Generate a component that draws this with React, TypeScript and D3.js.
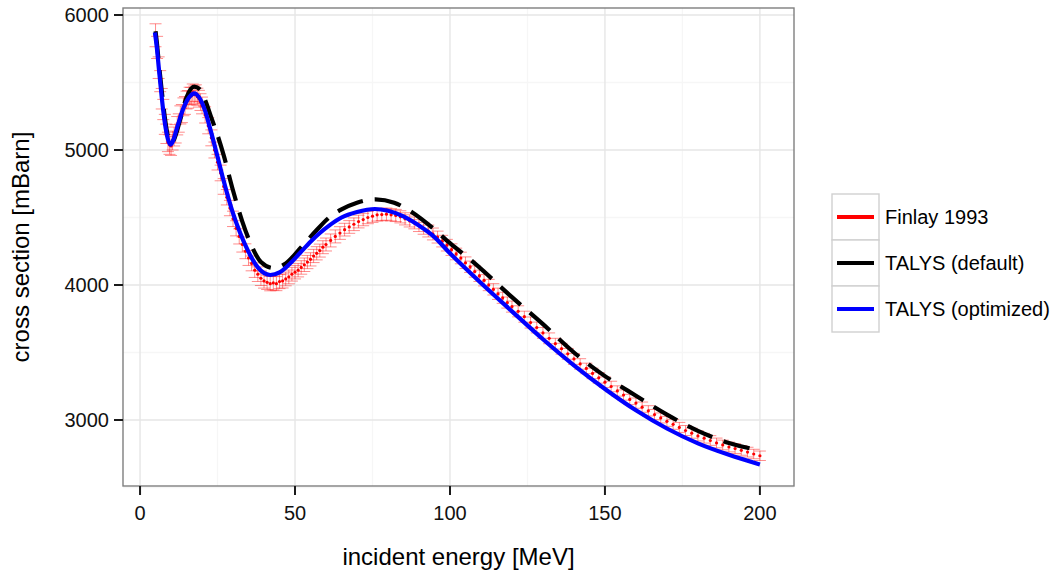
import React from "react";
import * as d3 from "d3";

// ---- Data ----
const legendLabels = ["Finlay 1993", "TALYS (default)", "TALYS (optimized)"];
const xTicks = [0, 50, 100, 150, 200];
const yTicks = [3000, 4000, 5000, 6000];
const xMinor = [25, 75, 125, 175];
const yMinor = [2500, 3500, 4500, 5500];

// Finlay 1993 experimental points
const redEnergy = [
  5.0, 5.5, 6.0, 6.5, 7.0, 7.5, 8.0, 8.5, 9.0, 9.5, 10.0, 10.5, 11.0, 11.5, 12.0, 12.5, 13.0, 13.5, 14.0, 14.5,
  15.0, 15.5, 16.0, 16.5, 17.0, 17.5, 18.0, 18.5, 19.0, 19.5, 20.0,
  21, 22, 23, 24, 25, 26, 27, 28, 29, 30, 31, 32, 33, 34, 35, 36, 37, 38, 39, 40,
  41, 42, 43, 44, 45, 46, 47, 48, 49, 50, 51, 52, 53, 54, 55, 56, 57, 58, 59, 60,
  61.5, 63, 64.5, 66, 67.5, 69, 70.5, 72, 73.5, 75, 76.5, 78, 79.5, 81, 82.5, 84, 85.5, 87, 88.5, 90,
  91.5, 93, 94.5, 96, 97.5, 99, 100.5, 102, 103.5, 105, 106.5, 108, 109.5, 111, 112.5, 114, 115.5, 117, 118.5, 120,
  122, 124, 126, 128, 130, 132, 134, 136, 138, 140, 142, 144, 146, 148, 150, 152, 154, 156, 158, 160,
  162, 164, 166, 168, 170, 172, 174, 176, 178, 180, 182, 184, 186, 188, 190, 192, 194, 196, 198, 200,
];
const redSigma = [
  5850, 5760, 5610, 5510, 5380, 5300, 5190, 5120, 5060, 5040, 5030, 5070, 5100, 5120, 5180, 5200, 5260, 5270, 5320, 5330,
  5370, 5375, 5400, 5400, 5425, 5410, 5420, 5395, 5380, 5355, 5330,
  5260, 5180, 5090, 5000, 4910, 4830, 4730, 4650, 4570, 4490, 4420, 4360, 4300, 4250, 4200, 4160, 4110, 4080, 4050, 4030,
  4020, 4010, 4015, 4010, 4025, 4030, 4045, 4060, 4080, 4095, 4110, 4130, 4150, 4170, 4190, 4215, 4235, 4255, 4280, 4300,
  4330, 4360, 4385, 4410, 4430, 4450, 4470, 4485, 4500, 4510, 4520, 4522, 4525, 4520, 4515, 4505, 4490, 4475, 4460, 4440,
  4420, 4400, 4378, 4355, 4325, 4295, 4262, 4230, 4200, 4165, 4135, 4100, 4068, 4035, 4000, 3968, 3935, 3905, 3870, 3840,
  3805, 3765, 3722, 3685, 3645, 3605, 3565, 3528, 3490, 3452, 3415, 3382, 3345, 3312, 3280, 3248, 3215, 3185, 3152, 3125,
  3095, 3068, 3040, 3015, 2990, 2968, 2945, 2922, 2902, 2882, 2865, 2848, 2830, 2815, 2800, 2788, 2775, 2762, 2748, 2735,
];
const redError = [
  85, 82, 80, 78, 76, 75, 74, 72, 72, 72, 70, 70, 70, 68, 68, 68, 67, 67, 66, 66,
  66, 65, 65, 64, 64, 64, 63, 63, 62, 62, 62,
  60, 60, 59, 59, 58, 58, 58, 57, 57, 57, 56, 56, 56, 55, 55, 55, 54, 54, 54, 53,
  53, 53, 52, 52, 52, 52, 51, 51, 51, 50, 50, 50, 50, 49, 49, 49, 49, 48, 48, 48,
  48, 48, 47, 47, 47, 47, 47, 46, 46, 46, 46, 46, 45, 45, 45, 45, 45, 45, 44, 44,
  44, 44, 44, 44, 43, 43, 43, 43, 43, 43, 42, 42, 42, 42, 42, 42, 42, 41, 41, 41,
  41, 41, 41, 40, 40, 40, 40, 40, 40, 40, 39, 39, 39, 39, 39, 39, 38, 38, 38, 38,
  38, 38, 38, 37, 37, 37, 37, 37, 37, 37, 36, 36, 36, 36, 36, 36, 36, 36, 35, 35,
];

// TALYS (default) curve
const defaultEnergy = [
  5, 5.5, 6, 7, 8, 9, 10, 11, 13, 15, 17.5, 19.5, 21, 23, 25, 27, 30, 33, 36, 39,
  43, 47, 52, 57, 61, 65, 70, 76, 82, 88, 94, 100, 108, 120, 130, 140, 150, 160, 170, 180, 190, 200,
];
const defaultSigma = [
  5880, 5780, 5660, 5440, 5240, 5100, 5050, 5080, 5230, 5390, 5470, 5445, 5370, 5240, 5110, 4960, 4700, 4470, 4290, 4170,
  4126, 4160, 4280, 4407, 4500, 4560, 4610, 4635, 4610, 4535, 4430, 4310, 4160, 3910, 3710, 3500, 3325, 3180, 3040, 2920, 2830, 2775,
];

// TALYS (optimized) curve
const optEnergy = [
  4.8, 5.5, 6, 7, 8, 9, 9.8, 10.5, 12, 14, 16, 17.5, 19, 21, 22.6, 25, 27, 30, 32.3, 35,
  38, 42, 45, 48, 51.6, 55, 58, 61, 65, 70, 75.8, 80, 85, 90, 95, 100, 106.5, 110, 120, 130,
  140, 150, 160, 170, 180, 190, 200,
];
const optSigma = [
  5870, 5740, 5620, 5390, 5200, 5080, 5040, 5060, 5170, 5310, 5395, 5420, 5392, 5290, 5160, 4950, 4770, 4530, 4385, 4245,
  4130, 4074, 4093, 4150, 4237, 4320, 4385, 4440, 4500, 4541, 4563, 4550, 4508, 4440, 4355, 4235, 4091, 4015, 3805, 3598,
  3405, 3230, 3072, 2937, 2827, 2742, 2670,
];

const seriesColors = ["#FF0000", "#000000", "#0000FF"];

// ---- Layout ----
const W = 1062;
const H = 574;
const panel = { left: 123, right: 794, top: 8, bottom: 486 };
const FONT = "'Liberation Sans', Arial, Helvetica, sans-serif";

export default function App() {
  const x = d3.scaleLinear().domain([-5.5, 211]).range([panel.left, panel.right]);
  const y = d3.scaleLinear().domain([2511, 6052]).range([panel.bottom, panel.top]);

  const line = d3
    .line<[number, number]>()
    .x((d) => x(d[0]))
    .y((d) => y(d[1]))
    .curve(d3.curveMonotoneX);

  const defaultPath = line(defaultEnergy.map((e, i) => [e, defaultSigma[i]]) as [number, number][]) || "";
  const optPath = line(optEnergy.map((e, i) => [e, optSigma[i]]) as [number, number][]) || "";

  const capHalf = 6;

  const keyX = 832;
  const keyW = 47;
  const keyH = 46;
  const keyTop = 194;

  return (
    <svg
      width={W}
      height={H}
      style={{ position: "absolute", left: 0, top: 0, background: "#fff" }}
      fontFamily={FONT}
    >
      <rect x={0} y={0} width={W} height={H} fill="#fff" />
      <rect
        x={panel.left}
        y={panel.top}
        width={panel.right - panel.left}
        height={panel.bottom - panel.top}
        fill="#fff"
      />
      {/* minor grid */}
      {xMinor.map((v) => (
        <line key={"xm" + v} x1={x(v)} x2={x(v)} y1={panel.top} y2={panel.bottom} stroke="#f6f6f6" strokeWidth={1.3} />
      ))}
      {yMinor.map((v) => (
        <line key={"ym" + v} x1={panel.left} x2={panel.right} y1={y(v)} y2={y(v)} stroke="#f6f6f6" strokeWidth={1.3} />
      ))}
      {/* major grid */}
      {xTicks.map((v) => (
        <line key={"xg" + v} x1={x(v)} x2={x(v)} y1={panel.top} y2={panel.bottom} stroke="#e6e6e6" strokeWidth={1.4} />
      ))}
      {yTicks.map((v) => (
        <line key={"yg" + v} x1={panel.left} x2={panel.right} y1={y(v)} y2={y(v)} stroke="#e6e6e6" strokeWidth={1.4} />
      ))}

      {/* error bars */}
      <g stroke="#FF0000" strokeOpacity={0.45} strokeWidth={1}>
        {redEnergy.map((e, i) => {
          const cx = x(e);
          const y1 = y(redSigma[i] + redError[i]);
          const y2 = y(redSigma[i] - redError[i]);
          return (
            <g key={"eb" + i}>
              <line x1={cx} x2={cx} y1={y1} y2={y2} />
              <line x1={cx - capHalf} x2={cx + capHalf} y1={y1} y2={y1} />
              <line x1={cx - capHalf} x2={cx + capHalf} y1={y2} y2={y2} />
            </g>
          );
        })}
      </g>
      {/* points */}
      <g fill="#FF0000">
        {redEnergy.map((e, i) => (
          <circle key={"pt" + i} cx={x(e)} cy={y(redSigma[i])} r={1.6} />
        ))}
      </g>

      {/* TALYS default (dashed) */}
      <path d={defaultPath} fill="none" stroke="#000" strokeWidth={4.2} strokeDasharray="27 12" />
      {/* TALYS optimized */}
      <path d={optPath} fill="none" stroke="#0000FF" strokeWidth={4.2} />

      {/* panel border */}
      <rect
        x={panel.left}
        y={panel.top}
        width={panel.right - panel.left}
        height={panel.bottom - panel.top}
        fill="none"
        stroke="#7f7f7f"
        strokeWidth={1.4}
      />

      {/* x axis ticks & labels */}
      {xTicks.map((v) => (
        <g key={"xt" + v}>
          <line x1={x(v)} x2={x(v)} y1={panel.bottom} y2={panel.bottom + 9} stroke="#1a1a1a" strokeWidth={2} />
          <text x={x(v)} y={520} textAnchor="middle" fontSize={20} fill="#111">
            {v}
          </text>
        </g>
      ))}
      {/* y axis ticks & labels */}
      {yTicks.map((v) => (
        <g key={"yt" + v}>
          <line x1={panel.left - 9} x2={panel.left} y1={y(v)} y2={y(v)} stroke="#1a1a1a" strokeWidth={2} />
          <text x={panel.left - 14} y={y(v)} dy="0.36em" textAnchor="end" fontSize={20} fill="#111">
            {v}
          </text>
        </g>
      ))}

      {/* axis titles */}
      <text x={(panel.left + panel.right) / 2} y={565} textAnchor="middle" fontSize={24} fill="#000">
        incident energy [MeV]
      </text>
      <text
        transform={`translate(${29},${(panel.top + panel.bottom) / 2}) rotate(-90)`}
        textAnchor="middle"
        fontSize={24}
        fill="#000"
      >
        cross section [mBarn]
      </text>

      {/* legend */}
      {legendLabels.map((lab, i) => {
        const ky = keyTop + i * keyH;
        return (
          <g key={"lg" + i}>
            <rect x={keyX} y={ky} width={keyW} height={keyH} fill="#fff" stroke="#d0d0d0" strokeWidth={1.4} />
            <line
              x1={keyX + 5}
              x2={keyX + keyW - 5}
              y1={ky + keyH / 2}
              y2={ky + keyH / 2}
              stroke={seriesColors[i]}
              strokeWidth={4}
            />
            <text x={885} y={ky + keyH / 2} dy="0.36em" fontSize={20} fill="#000">
              {lab}
            </text>
          </g>
        );
      })}
    </svg>
  );
}
